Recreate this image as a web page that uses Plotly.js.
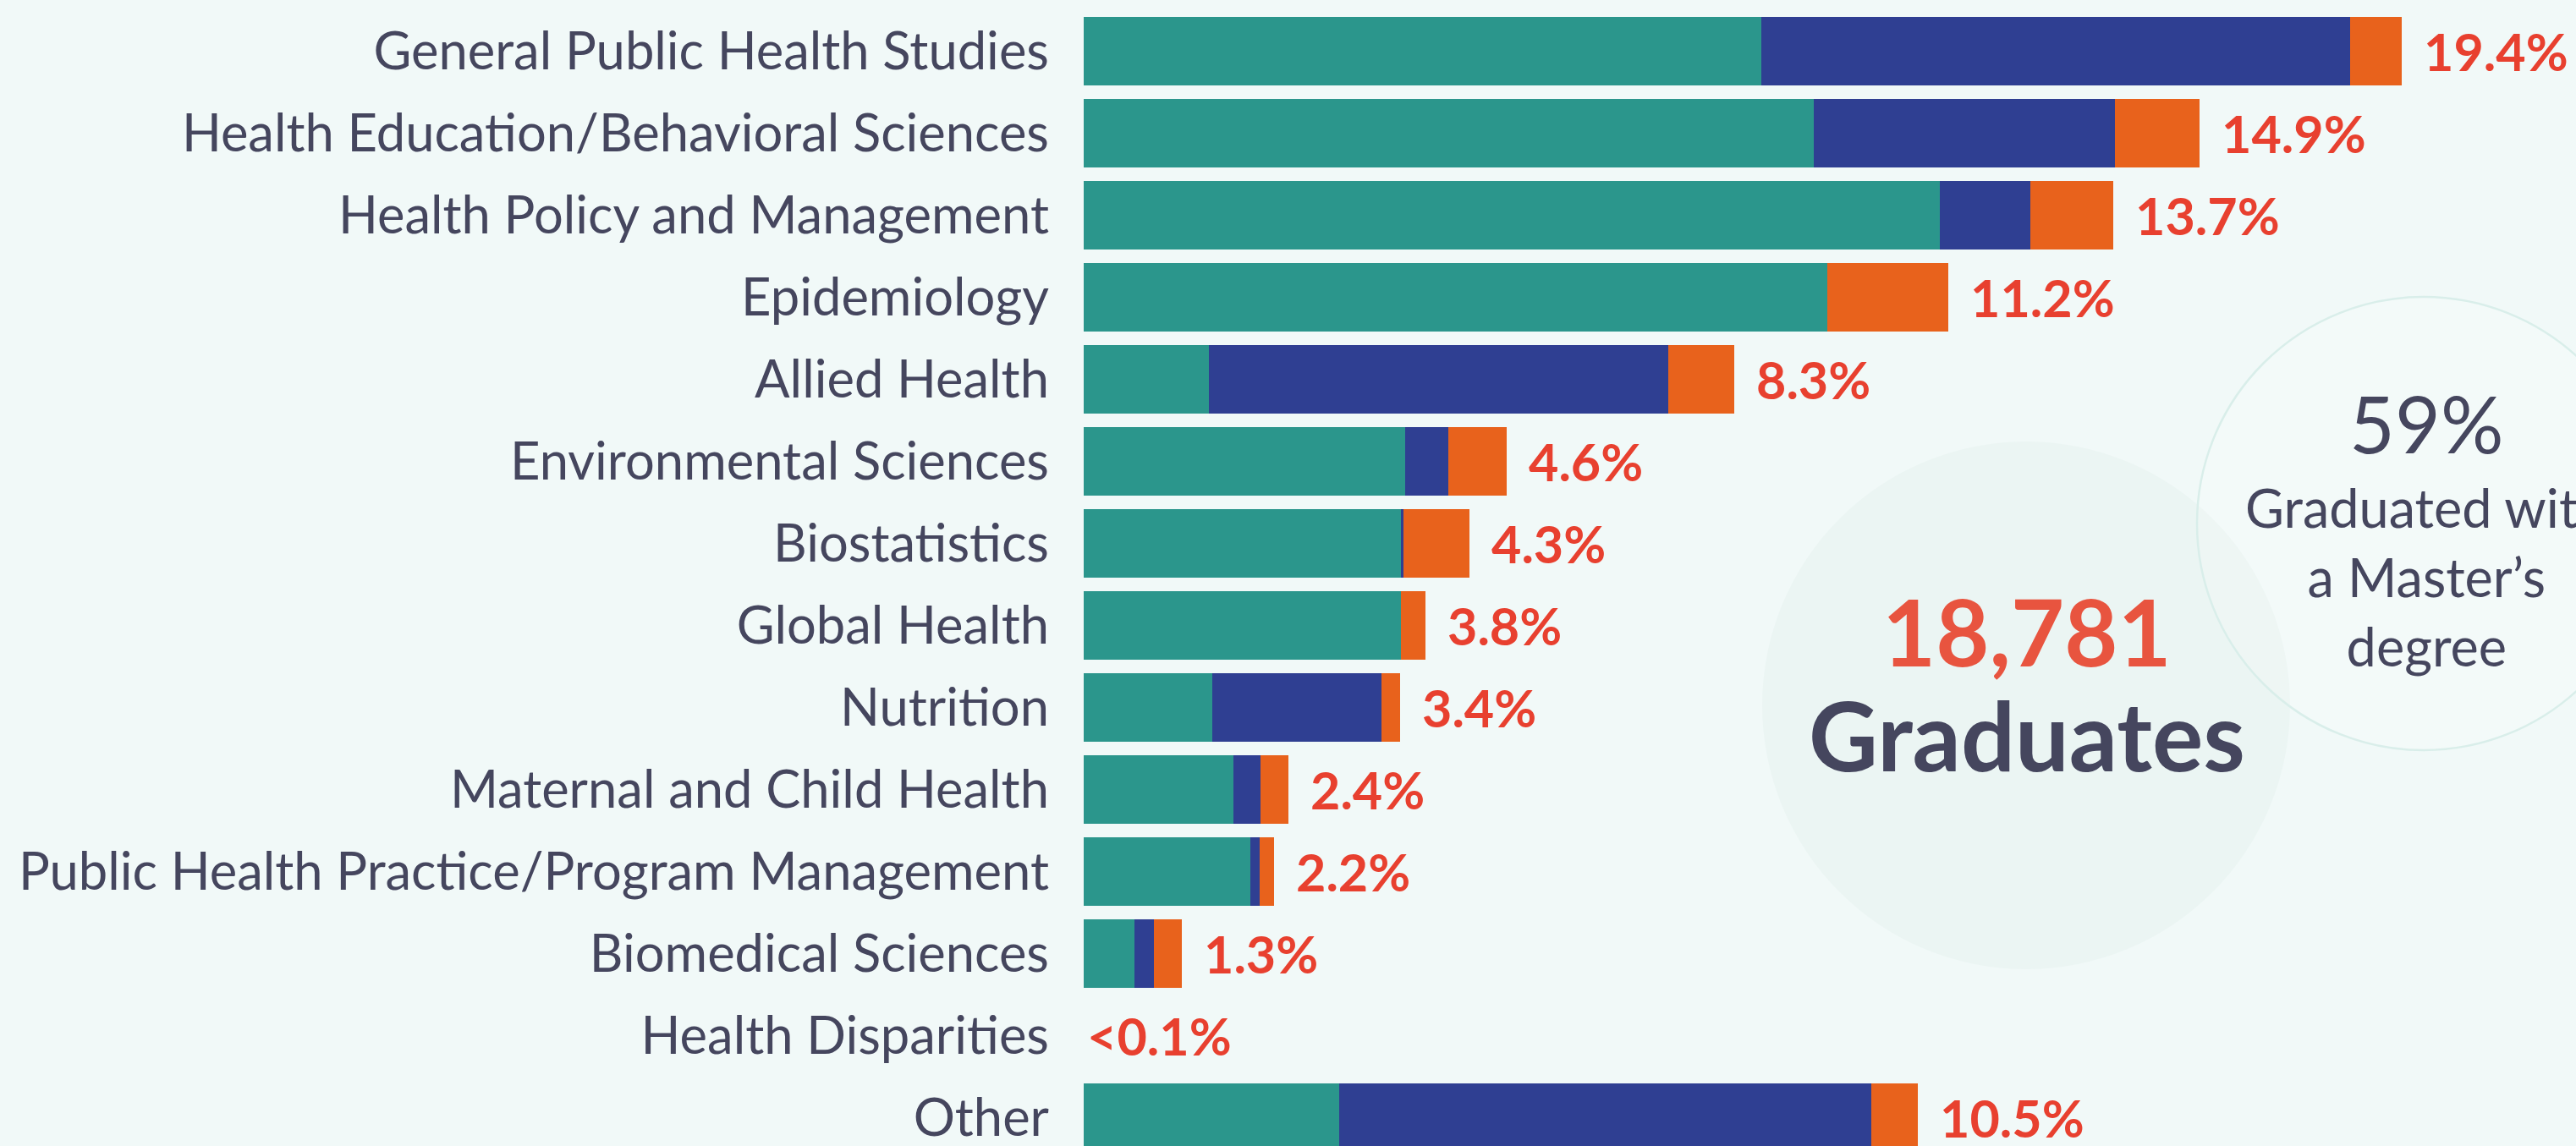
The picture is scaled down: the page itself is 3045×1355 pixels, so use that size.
<!DOCTYPE html>
<html>
<head>
<meta charset="utf-8">
<script src="https://cdn.plot.ly/plotly-3.0.1.min.js"></script>
<style>
  html, body { margin: 0; padding: 0; background: #f1f9f8; }
  #chart { width: 3045px; height: 1355px; }
</style>
</head>
<body>
<div id="chart"></div>
<script>
// ---- Data ----
const categories = [
  "General Public Health Studies",
  "Health Education/Behavioral Sciences",
  "Health Policy and Management",
  "Epidemiology",
  "Allied Health",
  "Environmental Sciences",
  "Biostatistics",
  "Global Health",
  "Nutrition",
  "Maternal and Child Health",
  "Public Health Practice/Program Management",
  "Biomedical Sciences",
  "Health Disparities",
  "Other"
];
// segment lengths (bar units, first bar total = 19.4)
const tealValues   = [9.98, 10.75, 12.61, 10.95, 1.84, 4.73, 4.67, 4.67, 1.89, 2.21, 2.45, 0.75, 0, 3.76];
const navyValues   = [8.67, 4.44, 1.33, 0, 6.77, 0.64, 0.04, 0, 2.50, 0.39, 0.14, 0.29, 0, 7.84];
const orangeValues = [0.76, 1.24, 1.22, 1.79, 0.97, 0.86, 0.97, 0.37, 0.27, 0.41, 0.21, 0.41, 0, 0.69];
const shareLabels  = ["19.4%", "14.9%", "13.7%", "11.2%", "8.3%", "4.6%", "4.3%", "3.8%", "3.4%", "2.4%", "2.2%", "1.3%", "<0.1%", "10.5%"];
const totalGraduates = "18,781";
const totalLabel = "Graduates";
const mastersShare = "59%";
const mastersText = "Graduated with<br>a Master\u2019s<br>degree";

// ---- Style ----
const W = 3045, H = 1355;
const plotLeft = 1281;
const BG = "#f1f9f8";
const TEXT = "#45465e";
const RED = "#e8402f";
const FONT = "Lato, 'Noto Sans', sans-serif";

function bar(vals, color) {
  return {
    type: "bar", orientation: "h", y: categories, x: vals,
    marker: { color: color, line: { width: 0 } },
    hoverinfo: "skip"
  };
}
const traces = [bar(tealValues, "#2b968c"), bar(navyValues, "#2f3f92"), bar(orangeValues, "#e8621c")];

const totals = categories.map((c, i) => tealValues[i] + navyValues[i] + orangeValues[i]);

// pixel -> paper helpers for decorations
const plotW = W - plotLeft;
const px = v => (v - plotLeft) / plotW;
const py = v => 1 - v / H;

const annotations = categories.map((c, i) => ({
  x: totals[i], y: c, xref: "x", yref: "y",
  text: shareLabels[i], showarrow: false,
  xanchor: "left", yanchor: "middle",
  xshift: totals[i] > 0 ? 24 : 2,
  font: { family: FONT, size: 61, color: RED, weight: 700 }
}));

annotations.push(
  { xref: "paper", yref: "paper", x: px(2396), y: py(745), text: totalGraduates, showarrow: false,
    xanchor: "center", yanchor: "middle", font: { family: FONT, size: 109, color: "#e8543f", weight: 700 } },
  { xref: "paper", yref: "paper", x: px(2396), y: py(868), text: totalLabel, showarrow: false,
    xanchor: "center", yanchor: "middle", font: { family: FONT, size: 113, color: TEXT, weight: 700 } },
  { xref: "paper", yref: "paper", x: px(2868), y: py(500), text: mastersShare, showarrow: false,
    xanchor: "center", yanchor: "middle", font: { family: FONT, size: 93, color: TEXT } },
  { xref: "paper", yref: "paper", x: px(2868), y: py(681), text: mastersText, showarrow: false,
    xanchor: "center", yanchor: "middle", font: { family: FONT, size: 63, color: TEXT } }
);

const shapes = [
  { type: "circle", xref: "paper", yref: "paper", layer: "below",
    x0: px(2083), x1: px(2707), y0: py(1146), y1: py(522),
    fillcolor: "#ebf5f3", line: { width: 0 } },
  { type: "circle", xref: "paper", yref: "paper", layer: "below",
    x0: px(2597), x1: px(3133), y0: py(887), y1: py(351),
    fillcolor: "rgba(255,255,255,0.15)", line: { color: "#d9eeea", width: 2.5 } }
];

const layout = {
  width: W, height: H,
  paper_bgcolor: BG, plot_bgcolor: BG,
  margin: { l: plotLeft, r: 0, t: 0, b: 0, pad: 0 },
  barmode: "stack", bargap: 0.165, showlegend: false,
  xaxis: { range: [0, plotW / 80.25], visible: false, fixedrange: true },
  yaxis: {
    type: "category", categoryorder: "array", categoryarray: categories,
    range: [13.345, -0.624], autorange: false,
    showgrid: false, zeroline: false, showline: false, ticks: "",
    ticklabelstandoff: 40,
    tickfont: { family: FONT, size: 61.5, color: TEXT },
    fixedrange: true
  },
  annotations: annotations,
  shapes: shapes,
  hovermode: false
};

Plotly.newPlot("chart", traces, layout, { displayModeBar: false, staticPlot: true });
</script>
</body>
</html>
